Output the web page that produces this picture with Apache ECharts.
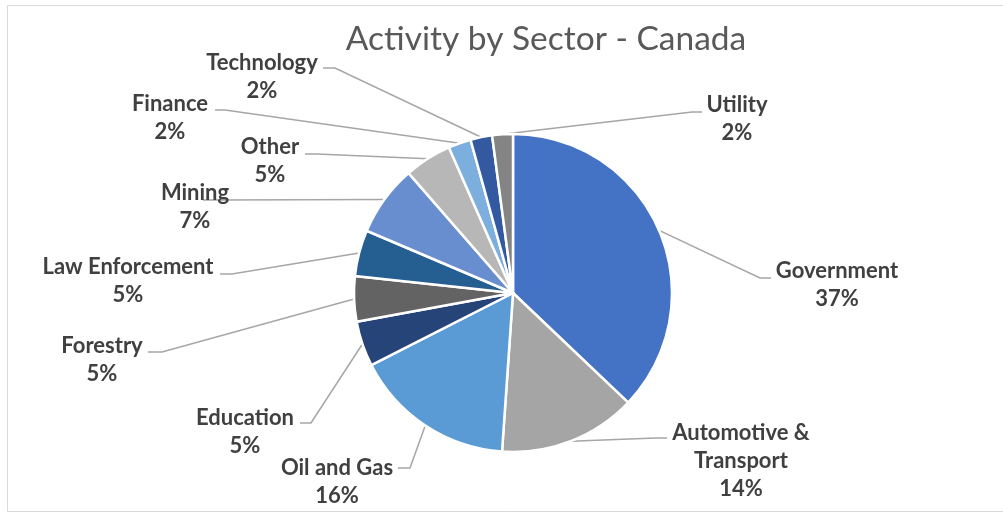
<!DOCTYPE html>
<html>
<head>
<meta charset="utf-8">
<script src="https://cdn.jsdelivr.net/npm/echarts@6/dist/echarts.min.js"></script>
<style>
html,body{margin:0;padding:0;background:#fff;}
#chart{width:1003px;height:513px;}
</style>
</head>
<body>
<div id="chart"></div>
<script>
// ---- data ----
var categories = ['Government', 'Automotive & Transport', 'Oil and Gas', 'Education', 'Forestry',
  'Law Enforcement', 'Mining', 'Other', 'Finance', 'Technology', 'Utility'];
var values = [37.1, 14.0, 16.4, 4.6, 4.6, 4.7, 7.2, 4.8, 2.3, 2.2, 2.1];
var titleText = 'Activity by Sector - Canada';

// ---- styles / layout (not data) ----
var colors = ['#4472C4', '#A5A5A5', '#5B9BD5', '#264478', '#636363', '#255E91',
  '#698ED0', '#B7B7B7', '#7CAFDD', '#335AA1', '#848484'];
// label block centre x, centre y, leader end x, end y, bend x
var labelSpots = [
  [837, 285, 771, 278, 760],
  [741, 461, 667, 438, 656],
  [337, 482, 398, 468, 410],
  [245, 432, 300, 423, 311],
  [102, 360, 148, 352, 162],
  [128, 281, 220, 274, 232],
  [195, 207, 203, 200, 215],
  [270, 161, 305, 154, 317],
  [170, 118, 215, 110, 225],
  [262, 77, 323, 68, 335],
  [737, 119, 702, 112, 692]
];

var chart = echarts.init(document.getElementById('chart'), null, {renderer: 'canvas'});
var seriesData = categories.map(function (c, i) {
  return {name: c, value: values[i], itemStyle: {color: colors[i]}};
});

chart.setOption({
  animation: false,
  backgroundColor: '#ffffff',
  title: {
    text: titleText,
    left: 541,
    top: 17,
    textAlign: 'center',
    textStyle: {fontFamily: 'Lato', fontWeight: 'normal', fontSize: 33.5, color: '#595959'}
  },
  graphic: [{
    type: 'rect', silent: true,
    shape: {x: 7.5, y: 5.5, width: 1010, height: 506},
    style: {fill: 'none', stroke: '#D9D9D9', lineWidth: 1}
  }],
  series: [{
    type: 'pie',
    center: [513, 293],
    radius: [0, 159],
    startAngle: 90,
    clockwise: true,
    percentPrecision: 0,
    avoidLabelOverlap: false,
    data: seriesData,
    itemStyle: {borderColor: '#ffffff', borderWidth: 2.5},
    label: {
      show: true,
      formatter: function (p) {
        return p.name.replace('& ', '&\n') + '\n' + p.percent + '%';
      },
      fontFamily: 'Lato', fontWeight: 'bold', fontSize: 22, lineHeight: 28,
      color: '#404040', align: 'center'
    },
    labelLine: {show: true, lineStyle: {color: '#A6A6A6', width: 1.5}, length: 10, length2: 10},
    emphasis: {disabled: true},
    labelLayout: function (params) {
      var s = labelSpots[params.dataIndex];
      var p0 = params.labelLinePoints ? params.labelLinePoints[0] : [s[4], s[3]];
      return {
        x: s[0], y: s[1], align: 'center', verticalAlign: 'middle',
        labelLinePoints: [p0, [s[4], s[3]], [s[2], s[3]]]
      };
    }
  }]
});
</script>
</body>
</html>
